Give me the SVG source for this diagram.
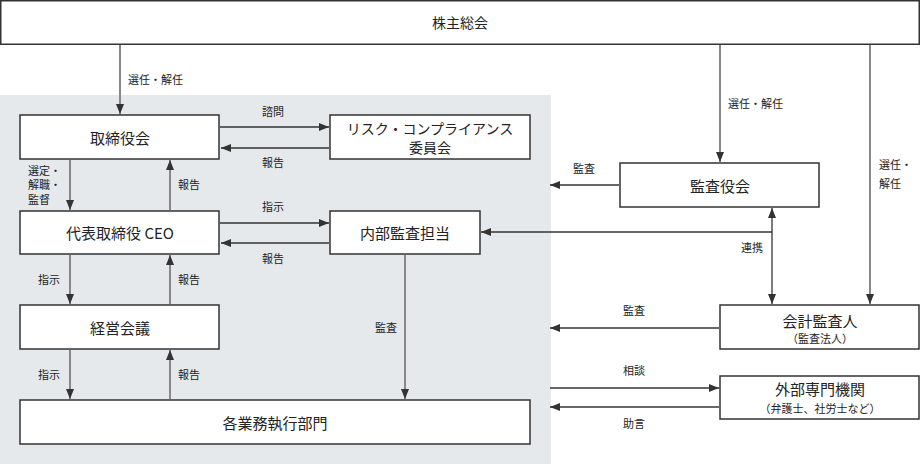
<svg xmlns="http://www.w3.org/2000/svg" width="920" height="464" viewBox="0 0 920 464">
<style>
.box{fill:#fff;stroke:#333;stroke-width:1.5}
.t{font-family:"Noto Sans CJK JP","Noto Sans",sans-serif;fill:#222;text-anchor:middle;dominant-baseline:central}
.big{font-size:15px}
.mid{font-size:14px}
.sm{font-size:11px}
.lab{font-family:"Noto Sans CJK JP","Noto Sans",sans-serif;font-size:11px;fill:#222;dominant-baseline:central}
.h{stroke:#333;stroke-width:1.3;fill:none}
.v{stroke:#888;stroke-width:2;fill:none}
</style>
<defs>
<marker id="a" viewBox="0 0 10 10" refX="10" refY="5" markerWidth="10" markerHeight="10" markerUnits="userSpaceOnUse" orient="auto-start-reverse">
<path d="M0,1 L10,5 L0,9 Z" fill="#333"/>
</marker>
</defs>
<rect x="0" y="95" width="551" height="369" fill="#e6e9ec"/>
<g id="connectors">
<line class="v" x1="120" y1="45" x2="120" y2="114" marker-end="url(#a)"/>
<line class="v" x1="720" y1="45" x2="720" y2="162" marker-end="url(#a)"/>
<line class="v" x1="870" y1="45" x2="870" y2="304" marker-end="url(#a)"/>
<line class="h" x1="220" y1="127" x2="329" y2="127" marker-end="url(#a)"/>
<line class="h" x1="329" y1="148" x2="221" y2="148" marker-end="url(#a)"/>
<line class="h" x1="220" y1="223" x2="329" y2="223" marker-end="url(#a)"/>
<line class="h" x1="329" y1="243" x2="221" y2="243" marker-end="url(#a)"/>
<line class="v" x1="70" y1="160" x2="70" y2="210" marker-end="url(#a)"/>
<line class="v" x1="170" y1="210" x2="170" y2="160" marker-end="url(#a)"/>
<line class="v" x1="70" y1="255" x2="70" y2="304" marker-end="url(#a)"/>
<line class="v" x1="170" y1="304" x2="170" y2="255" marker-end="url(#a)"/>
<line class="v" x1="70" y1="350" x2="70" y2="399" marker-end="url(#a)"/>
<line class="v" x1="170" y1="399" x2="170" y2="350" marker-end="url(#a)"/>
<line class="v" x1="405" y1="255" x2="405" y2="399" marker-end="url(#a)"/>
<line class="h" x1="619" y1="185" x2="550" y2="185" marker-end="url(#a)"/>
<line class="h" x1="772" y1="232" x2="481" y2="232" marker-end="url(#a)"/>
<line class="h" x1="772" y1="208" x2="772" y2="304" marker-start="url(#a)" marker-end="url(#a)"/>
<line class="h" x1="719" y1="328" x2="550" y2="328" marker-end="url(#a)"/>
<line class="h" x1="550" y1="388" x2="719" y2="388" marker-end="url(#a)"/>
<line class="h" x1="719" y1="407" x2="550" y2="407" marker-end="url(#a)"/>
<text class="lab" x="128" y="79">選任・解任</text>
<text class="lab" x="728" y="103">選任・解任</text>
<text class="lab" x="879" y="164">選任・</text>
<text class="lab" x="879" y="183">解任</text>
<text class="t sm" x="273" y="111">諮問</text>
<text class="t sm" x="273" y="162">報告</text>
<text class="t sm" x="273" y="206">指示</text>
<text class="t sm" x="273" y="258">報告</text>
<text class="lab" x="28" y="169.5" font-size="10.5">選定・</text>
<text class="lab" x="28" y="184" font-size="10.5">解職・</text>
<text class="lab" x="28" y="198.5" font-size="10.5">監督</text>
<text class="lab" x="178" y="184">報告</text>
<text class="lab" x="38" y="279">指示</text>
<text class="lab" x="178" y="279">報告</text>
<text class="lab" x="38" y="374">指示</text>
<text class="lab" x="178" y="374">報告</text>
<text class="t sm" x="386" y="327">監査</text>
<text class="t sm" x="584" y="168">監査</text>
<text class="t sm" x="752" y="247">連携</text>
<text class="t sm" x="634" y="310">監査</text>
<text class="t sm" x="634" y="370">相談</text>
<text class="t sm" x="634" y="423">助言</text>
</g>
<g id="n-shareholders">
<rect class="box" x="0.75" y="0.75" width="918.5" height="43.5"/>
<text class="t mid" x="460" y="22">株主総会</text>
</g>
<g id="n-board">
<rect class="box" x="20" y="115" width="199" height="44"/>
<text class="t big" x="120" y="137">取締役会</text>
</g>
<g id="n-risk">
<rect class="box" x="330" y="115" width="200" height="44"/>
<text class="t" font-size="14" x="430" y="127.5">リスク・コンプライアンス</text>
<text class="t" font-size="14" x="430" y="147">委員会</text>
</g>
<g id="n-ceo">
<rect class="box" x="20" y="211" width="199" height="43"/>
<text class="t big" x="120" y="232.5">代表取締役 CEO</text>
</g>
<g id="n-internal-audit">
<rect class="box" x="330" y="211" width="150" height="43"/>
<text class="t big" x="405" y="232.5">内部監査担当</text>
</g>
<g id="n-mgmt">
<rect class="box" x="20" y="305" width="199" height="44"/>
<text class="t big" x="120" y="327">経営会議</text>
</g>
<g id="n-divisions">
<rect class="box" x="20" y="400" width="510" height="44"/>
<text class="t big" x="275" y="422">各業務執行部門</text>
</g>
<g id="n-auditors">
<rect class="box" x="620" y="163" width="199" height="44"/>
<text class="t big" x="720" y="185">監査役会</text>
</g>
<g id="n-accounting-auditor">
<rect class="box" x="720" y="305" width="199" height="44"/>
<text class="t big" x="820" y="320.5">会計監査人</text>
<text class="t sm" x="820" y="338">（監査法人）</text>
</g>
<g id="n-external">
<rect class="box" x="720" y="376" width="199" height="43"/>
<text class="t big" x="820" y="388">外部専門機関</text>
<text class="t sm" x="820" y="408">（弁護士、社労士など）</text>
</g>
</svg>
